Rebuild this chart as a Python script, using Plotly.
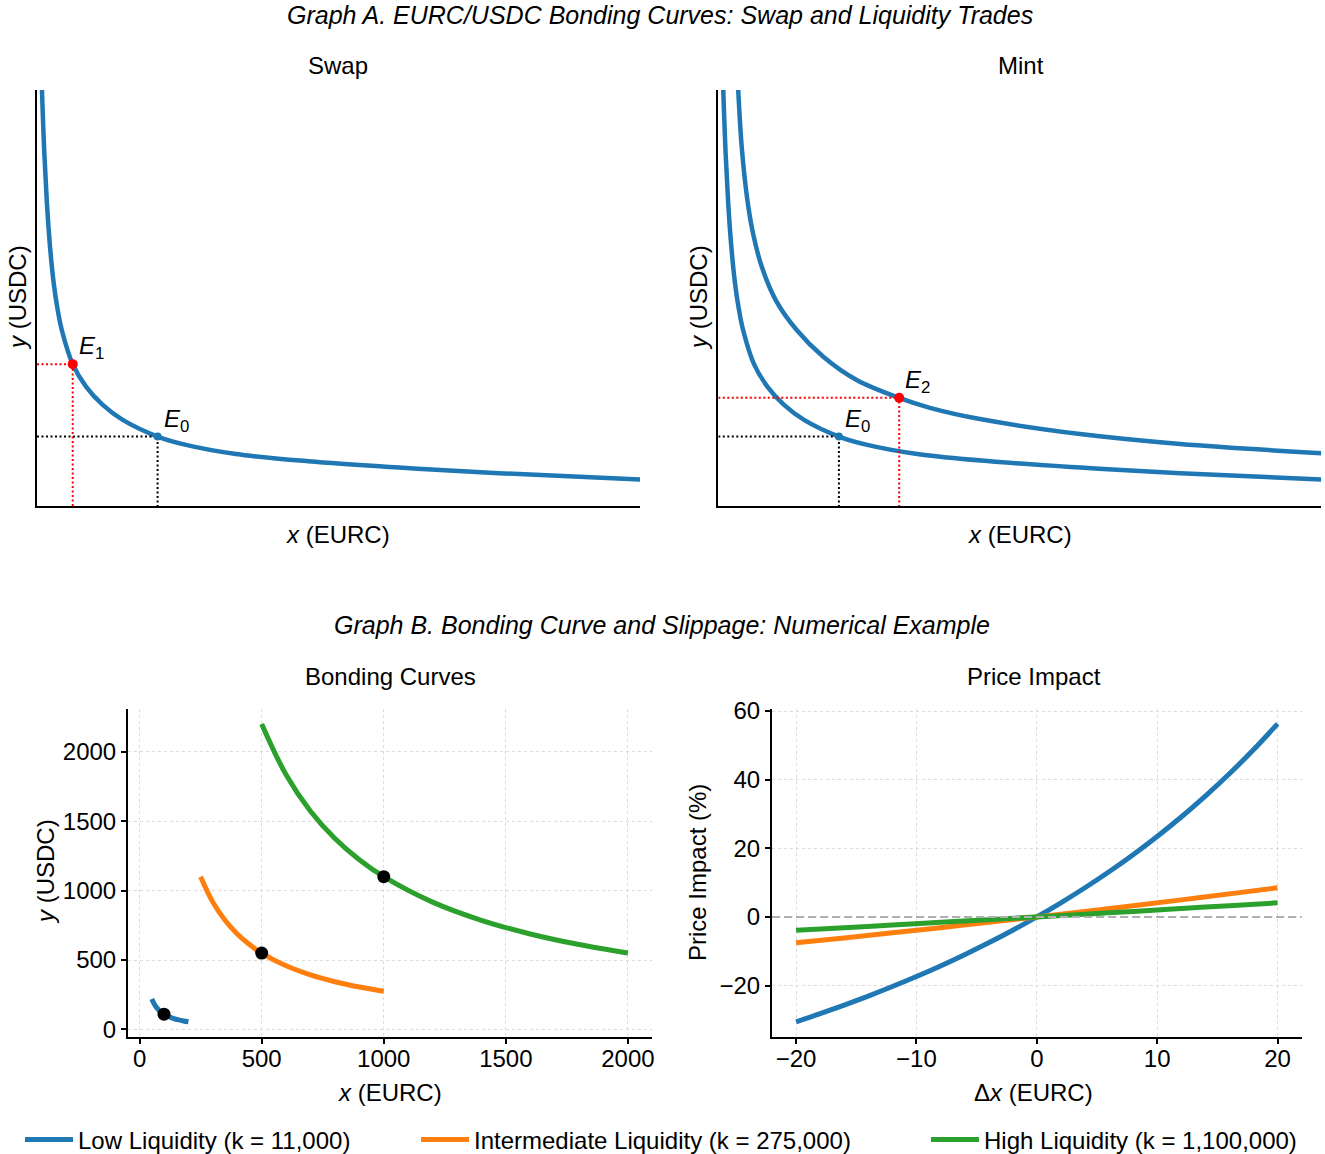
import plotly.graph_objects as go

# ---------------- data ----------------
# Graph A is schematic (no numeric scale): values in axis units 0..100
CURVE0_X = [0.8, 1.21, 1.64, 2.15, 2.76, 3.34, 4.11, 5.92, 8.13, 10.9, 14.21, 20.0, 24.7, 33.0, 45.0, 60.0, 76.6, 100.0]
CURVE0_Y = [101.0, 84.9, 72.9, 62.5, 53.7, 47.9, 42.3, 34.1, 28.7, 24.3, 20.7, 16.7, 14.7, 12.5, 10.75, 9.25, 7.88, 6.4]
CURVE2_X = [3.27, 3.88, 4.78, 5.75, 7.21, 9.52, 13.0, 17.41, 22.95, 30.0, 35.1, 43.4, 60.0, 76.6, 100.0]
CURVE2_Y = [101.0, 86.4, 74.0, 65.6, 57.5, 49.5, 42.3, 35.9, 30.3, 26.0, 23.6, 20.9, 17.3, 14.9, 12.7]
E0 = (20.0, 16.7)
E1 = (5.92, 34.1)
E2 = (30.0, 26.0)

# Graph B: bonding curves
LOW_X = [50, 60, 70, 80, 90, 100, 120, 140, 160, 180, 200]
LOW_Y = [220, 183.3, 157.1, 137.5, 122.2, 110, 91.7, 78.6, 68.75, 61.1, 55]
MID_X = [250, 300, 350, 400, 450, 500, 600, 700, 800, 900, 1000]
MID_Y = [1100, 916.7, 785.7, 687.5, 611.1, 550, 458.3, 392.9, 343.75, 305.6, 275]
HIGH_X = [500, 600, 700, 800, 900, 1000, 1200, 1400, 1600, 1800, 2000]
HIGH_Y = [2200, 1833.3, 1571.4, 1375, 1222.2, 1100, 916.7, 785.7, 687.5, 611.1, 550]
POOL_X = [100, 500, 1000]
POOL_Y = [110, 550, 1100]

# Graph B: price impact (%)
DX_FINE = [-20, -18, -16, -14, -12, -10, -8, -6, -4, -2, 0, 2, 4, 6, 8, 10, 12, 14, 16, 18, 20]
PI_LOW = [-30.56, -28.18, -25.68, -23.05, -20.28, -17.36, -14.27, -11.00, -7.54, -3.88, 0,
          4.12, 8.51, 13.17, 18.15, 23.46, 29.13, 35.21, 41.72, 48.72, 56.25]
DX = [-20, -16, -12, -8, -4, 0, 4, 8, 12, 16, 20]
PI_MID = [-7.54, -6.11, -4.63, -3.12, -1.58, 0, 1.62, 3.28, 4.98, 6.72, 8.51]
PI_HIGH = [-3.88, -3.12, -2.36, -1.58, -0.80, 0, 0.80, 1.62, 2.45, 3.28, 4.12]

NAMES = ["Low Liquidity (k = 11,000)", "Intermediate Liquidity (k = 275,000)", "High Liquidity (k = 1,100,000)"]

BLUE, ORANGE, GREEN, RED = "#1f77b4", "#ff7f0e", "#2ca02c", "#ff0000"
FONT = "Liberation Sans, Arial, Helvetica, sans-serif"
FS = 24
W, H = 1325, 1154

fig = go.Figure()

def px_x(p):
    return min(max(p / W, 0.0), 1.0)

def px_y(p):
    return min(max(1 - p / H, 0.0), 1.0)

def curve(x, y, color, ax, width=4.5, **kw):
    fig.add_trace(go.Scatter(x=x, y=y, mode="lines", xaxis=ax[0], yaxis=ax[1],
                             line=dict(color=color, width=width, shape="spline", smoothing=1.0),
                             hoverinfo="skip", **kw))

def guides(pt, color, ax):
    fig.add_trace(go.Scatter(x=[0, pt[0], pt[0]], y=[pt[1], pt[1], 0], mode="lines",
                             xaxis=ax[0], yaxis=ax[1], showlegend=False,
                             line=dict(color=color, width=2, dash="2px,2.5px"), hoverinfo="skip"))

def point(pt, color, size, ax):
    fig.add_trace(go.Scatter(x=[pt[0]], y=[pt[1]], mode="markers", xaxis=ax[0], yaxis=ax[1],
                             showlegend=False, marker=dict(color=color, size=size), hoverinfo="skip"))

A1 = ("x", "y")
A2 = ("x2", "y2")
B1 = ("x3", "y3")
B2 = ("x4", "y4")

# --- Swap ---
curve(CURVE0_X, CURVE0_Y, BLUE, A1, showlegend=False)
guides(E1, RED, A1)
guides(E0, "black", A1)
point(E1, RED, 10, A1)
point(E0, BLUE, 8, A1)

# --- Mint ---
curve(CURVE0_X, CURVE0_Y, BLUE, A2, showlegend=False)
curve(CURVE2_X, CURVE2_Y, BLUE, A2, showlegend=False)
guides(E2, RED, A2)
guides(E0, "black", A2)
point(E2, RED, 10, A2)
point(E0, BLUE, 8, A2)

# --- Bonding curves ---
for (xs, ys, c, nm, lg) in [(LOW_X, LOW_Y, BLUE, NAMES[0], "legend"),
                            (MID_X, MID_Y, ORANGE, NAMES[1], "legend2"),
                            (HIGH_X, HIGH_Y, GREEN, NAMES[2], "legend3")]:
    curve(xs, ys, c, B1, width=5, name=nm, showlegend=True, legend=lg)
fig.add_trace(go.Scatter(x=POOL_X, y=POOL_Y, mode="markers", xaxis="x3", yaxis="y3",
                         showlegend=False, marker=dict(color="black", size=13), hoverinfo="skip"))

# --- Price impact ---
curve(DX_FINE, PI_LOW, BLUE, B2, width=5, showlegend=False)
curve(DX, PI_MID, ORANGE, B2, width=5, showlegend=False)
curve(DX, PI_HIGH, GREEN, B2, width=5, showlegend=False)
fig.add_shape(type="line", xref="x4 domain", yref="y4", x0=0, x1=1, y0=0, y1=0,
              line=dict(color="#b0b0b0", width=2, dash="8px,4px"), layer="above")

# ---------------- layout ----------------
top_y = [px_y(506), px_y(90)]
bot_y = [px_y(1036.7), px_y(709)]

blank = dict(showticklabels=False, ticks="", showgrid=False, zeroline=False,
             showline=True, linecolor="black", linewidth=2, fixedrange=True)
num = dict(showgrid=True, gridcolor="#dcdcdc", griddash="dot", gridwidth=1, zeroline=False,
           showline=True, linecolor="black", linewidth=2, ticks="outside", ticklen=5,
           tickwidth=1.5, tickcolor="black", tickfont=dict(size=FS, color="black"))

fig.update_layout(
    width=W, height=H, margin=dict(l=0, r=0, t=0, b=0, autoexpand=False),
    paper_bgcolor="white", plot_bgcolor="white",
    font=dict(family=FONT, size=FS, color="black"),
    xaxis=dict(domain=[px_x(37), px_x(640)], range=[0, 100], anchor="y", **blank),
    yaxis=dict(domain=top_y, range=[0, 100], anchor="x", **blank),
    xaxis2=dict(domain=[px_x(718.3), px_x(1321.3)], range=[0, 100], anchor="y2", **blank),
    yaxis2=dict(domain=top_y, range=[0, 100], anchor="x2", **blank),
    xaxis3=dict(domain=[px_x(128), px_x(651.7)], range=[-47.5, 2097.5], anchor="y3",
                tickvals=[0, 500, 1000, 1500, 2000], ticklabelstandoff=-6, **num),
    yaxis3=dict(domain=bot_y, range=[-52.25, 2307.25], anchor="x3",
                tickvals=[0, 500, 1000, 1500, 2000], **num),
    xaxis4=dict(domain=[px_x(772), px_x(1301.6)], range=[-22, 22], anchor="y4",
                tickvals=[-20, -10, 0, 10, 20], ticktext=["\u221220", "\u221210", "0", "10", "20"],
                ticklabelstandoff=-6, **num),
    yaxis4=dict(domain=bot_y, range=[-34.9, 60.6], anchor="x4",
                tickvals=[-20, 0, 20, 40, 60], ticktext=["\u221220", "0", "20", "40", "60"], **num),
)

leg_common = dict(orientation="h", yanchor="middle", y=px_y(1140), xanchor="left",
                  font=dict(size=FS), bgcolor="rgba(0,0,0,0)", itemwidth=48)
fig.update_layout(legend=dict(x=px_x(20), **leg_common),
                  legend2=dict(x=px_x(416), **leg_common),
                  legend3=dict(x=px_x(926), **leg_common))

ann = []
def text(t, x, y, size=FS, italic=False, angle=0):
    ann.append(dict(text=("<i>%s</i>" % t) if italic else t, x=px_x(x), y=px_y(y),
                    xref="paper", yref="paper", showarrow=False, xanchor="center", yanchor="middle",
                    textangle=angle, font=dict(size=size, family=FONT, color="black")))

text("Graph A. EURC/USDC Bonding Curves: Swap and Liquidity Trades", 660, 15, size=25, italic=True)
text("Swap", 338, 66)
text("Mint", 1021, 66)
text("<i>x</i> (EURC)", 338, 534)
text("<i>x</i> (EURC)", 1020, 534)
text("<i>y</i> (USDC)", 17, 298, angle=-90)
text("<i>y</i> (USDC)", 698, 298, angle=-90)
text("Graph B. Bonding Curve and Slippage: Numerical Example", 662, 625, size=25, italic=True)
text("Bonding Curves", 390, 676)
text("Price Impact", 1034, 676)
text("<i>y</i> (USDC)", 45, 872, angle=-90)
text("Price Impact (%)", 697, 872, angle=-90)
text("<i>x</i> (EURC)", 390, 1092)
text("\u0394<i>x</i> (EURC)", 1033, 1092)

# point labels
for (pt, lab, ax) in [(E1, "E</i><sub>1</sub>", A1), (E0, "E</i><sub>0</sub>", A1),
                      (E2, "E</i><sub>2</sub>", A2), (E0, "E</i><sub>0</sub>", A2)]:
    ann.append(dict(text="<i>" + lab, x=pt[0], y=pt[1], xref=ax[0], yref=ax[1], showarrow=False,
                    xanchor="left", yanchor="bottom", xshift=4, yshift=-1,
                    font=dict(size=FS, family=FONT, color="black")))

fig.update_layout(annotations=ann)
# remove the default 8px page margin so the figure fills the 1325x1154 window exactly
fig.write_html("out.html", config={"displayModeBar": False},
               post_script="document.body.style.margin='0px';")
